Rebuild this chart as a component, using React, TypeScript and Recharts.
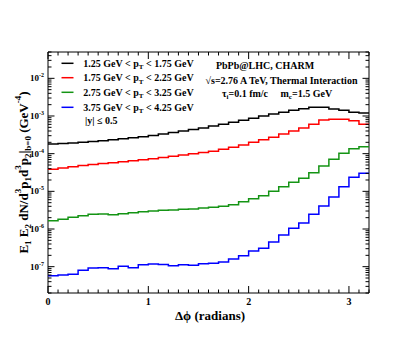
import React from "react";
import { LineChart, Line, XAxis, YAxis, ReferenceArea } from "recharts";

// bin edges of the Δφ histogram (0.1 rad wide)
const binStarts = [
  0, 0.1, 0.2, 0.3, 0.4, 0.5, 0.6, 0.7, 0.8, 0.9, 1.0, 1.1, 1.2, 1.3, 1.4, 1.5,
  1.6, 1.7, 1.8, 1.9, 2.0, 2.1, 2.2, 2.3, 2.4, 2.5, 2.6, 2.7, 2.8, 2.9, 3.0, 3.1,
];
const lastEdge = 3.2;

// 1.25 < pT < 1.75 GeV
const pt125 = [
  1.8e-4, 1.86e-4, 1.92e-4, 2.0e-4, 2.1e-4, 2.21e-4, 2.33e-4, 2.48e-4, 2.63e-4, 2.83e-4,
  3.05e-4, 3.32e-4, 3.64e-4, 3.99e-4, 4.38e-4, 4.8e-4, 5.42e-4, 6.01e-4, 6.79e-4, 7.67e-4,
  8.67e-4, 9.98e-4, 1.13e-3, 1.25e-3, 1.42e-3, 1.56e-3, 1.7e-3, 1.7e-3, 1.53e-3, 1.42e-3,
  1.25e-3, 1.2e-3,
];
// 1.75 < pT < 2.25 GeV
const pt175 = [
  3.84e-5, 4.16e-5, 4.5e-5, 4.84e-5, 5.15e-5, 5.47e-5, 5.74e-5, 6.11e-5, 6.5e-5, 6.9e-5,
  7.34e-5, 7.91e-5, 8.5e-5, 9.2e-5, 9.91e-5, 1.07e-4, 1.16e-4, 1.3e-4, 1.47e-4, 1.69e-4,
  2.0e-4, 2.34e-4, 2.71e-4, 3.32e-4, 3.99e-4, 4.8e-4, 6.01e-4, 7.82e-4, 8.16e-4, 8.16e-4,
  7.49e-4, 6.01e-4,
];
// 2.75 < pT < 3.25 GeV
const pt275 = [
  1.66e-6, 1.81e-6, 2.04e-6, 2.25e-6, 2.45e-6, 2.5e-6, 2.39e-6, 2.55e-6, 2.7e-6, 2.88e-6,
  3.0e-6, 3.13e-6, 3.19e-6, 3.33e-6, 3.39e-6, 3.61e-6, 3.76e-6, 4.0e-6, 4.41e-6, 5.3e-6,
  6.37e-6, 7.65e-6, 1.0e-5, 1.32e-5, 1.73e-5, 2.21e-5, 3.12e-5, 4.7e-5, 7.08e-5, 1.02e-4,
  1.35e-4, 1.53e-4,
];
// 3.75 < pT < 4.25 GeV
const pt375 = [
  5.75e-8, 6.0e-8, 6.26e-8, 8.0e-8, 9.21e-8, 9.38e-8, 8.83e-8, 1.02e-7, 9.38e-8, 1.13e-7,
  1.18e-7, 1.15e-7, 1.06e-7, 1.13e-7, 1.09e-7, 1.2e-7, 1.23e-7, 1.33e-7, 1.6e-7, 1.95e-7,
  2.6e-7, 3.07e-7, 4.51e-7, 6.92e-7, 1.04e-6, 1.44e-6, 2.45e-6, 4.07e-6, 7.06e-6, 1.32e-5,
  2.35e-5, 3.01e-5,
];

const seriesLabels = [
  ["1.25", "1.75"],
  ["1.75", "2.25"],
  ["2.75", "3.25"],
  ["3.75", "4.25"],
];
const seriesKeys = ["pt125", "pt175", "pt275", "pt375"];
const colors = ["#000000", "#ff0000", "#149414", "#0000ff"];

const xTicks = [...binStarts, lastEdge];
const xLabels = [0, 1, 2, 3];
const yDomain = [2e-8, 5e-2];
const yExps = [-8, -7, -6, -5, -4, -3, -2];
const yTicks = yExps
  .flatMap((e) => [1, 2, 3, 4, 5, 6, 7, 8, 9].map((m) => m * Math.pow(10, e)))
  .filter((v) => v >= yDomain[0] * 0.999 && v <= yDomain[1] * 1.001);

const W = 399;
const H = 330;
const PLOT = { left: 40, right: 361, top: 44, bottom: 285 };
const FONT = "'Liberation Serif', 'DejaVu Serif', serif";

const data = xTicks.map((x, i) => {
  const k = Math.min(i, binStarts.length - 1);
  return { x, pt125: pt125[k], pt175: pt175[k], pt275: pt275[k], pt375: pt375[k] };
});

function XTick(props: any) {
  const { x, payload } = props;
  const v = payload.value as number;
  const major = xLabels.some((l) => Math.abs(l - v) < 1e-6);
  const len = major ? 7 : 3.5;
  return (
    <g>
      <line x1={x} x2={x} y1={PLOT.bottom} y2={PLOT.bottom - len} stroke="#000" />
      <line x1={x} x2={x} y1={PLOT.top} y2={PLOT.top + len} stroke="#000" />
      {major && (
        <text
          x={x}
          y={PLOT.bottom + 8}
          textAnchor="middle"
          dominantBaseline="central"
          fontFamily={FONT}
          fontWeight="bold"
          fontSize={10}
          fill="#000"
        >
          {Math.round(v)}
        </text>
      )}
    </g>
  );
}

function YTick(props: any) {
  const { y, payload } = props;
  const v = payload.value as number;
  const lg = Math.log10(v);
  const major = Math.abs(lg - Math.round(lg)) < 1e-6;
  const len = major ? 6.5 : 3.5;
  return (
    <g>
      <line x1={PLOT.left} x2={PLOT.left + len} y1={y} y2={y} stroke="#000" />
      <line x1={PLOT.right} x2={PLOT.right - len} y1={y} y2={y} stroke="#000" />
      {major && (
        <text
          x={PLOT.left - 4}
          y={y}
          textAnchor="end"
          dominantBaseline="central"
          fontFamily={FONT}
          fontWeight="bold"
          fontSize={9}
          fill="#000"
        >
          10
          <tspan fontSize={6} baselineShift="super">
            {Math.round(lg)}
          </tspan>
        </text>
      )}
    </g>
  );
}

function Overlay() {
  const t = { fontFamily: FONT, fontWeight: "bold" as const, fill: "#000" };
  const rows = [55.3, 69.7, 84.3, 99.3];
  return (
    <svg
      width={W}
      height={H}
      style={{ position: "absolute", left: 0, top: 0, pointerEvents: "none" }}
    >
      {seriesLabels.map(([lo, hi], i) => (
        <g key={i}>
          <line x1={53.5} x2={65.5} y1={rows[i]} y2={rows[i]} stroke={colors[i]} strokeWidth={1.5} />
          <text x={75.3} y={rows[i]} dominantBaseline="central" fontSize={10} {...t}>
            {lo} GeV &lt; p
            <tspan fontSize={7} baselineShift="sub">T</tspan> &lt; {hi} GeV
          </text>
        </g>
      ))}
      <text x={77} y={112.7} dominantBaseline="central" fontSize={10} {...t}>
        |y| ≤ 0.5
      </text>

      <text x={257} y={57} textAnchor="middle" dominantBaseline="central" fontSize={10} {...t}>
        PbPb@LHC, CHARM
      </text>
      <text x={273.5} y={72} textAnchor="middle" dominantBaseline="central" fontSize={10} {...t}>
        √s=2.76 A TeV, Thermal Interaction
      </text>
      <text x={269} y={85.3} textAnchor="middle" dominantBaseline="central" fontSize={10} {...t}>
        τ<tspan fontSize={7} baselineShift="sub">i</tspan>=0.1 fm/c{"\u00a0\u00a0\u00a0\u00a0\u00a0"}m
        <tspan fontSize={7} baselineShift="sub">c</tspan>=1.5 GeV
      </text>

      <text x={202} y={307} textAnchor="middle" dominantBaseline="central" fontSize={13} {...t}>
        Δϕ (radians)
      </text>

      <text
        transform={`translate(15, ${(PLOT.top + PLOT.bottom) / 2}) rotate(-90)`}
        textAnchor="middle"
        dominantBaseline="central"
        fontSize={13}
        {...t}
      >
        E<tspan fontSize={9} baselineShift="sub">1</tspan> E
        <tspan fontSize={9} baselineShift="sub">2</tspan> dN/d
        <tspan fontSize={9} baselineShift="super">3</tspan>p
        <tspan fontSize={9} baselineShift="sub">1</tspan>d
        <tspan fontSize={9} baselineShift="super">3</tspan>p
        <tspan fontSize={9} baselineShift="sub">2</tspan>|
        <tspan fontSize={9} baselineShift="sub">b=0</tspan> (GeV
        <tspan fontSize={9} baselineShift="super">-4</tspan>)
      </text>
    </svg>
  );
}

export default function App() {
  return (
    <div style={{ position: "relative", width: W, height: H }}>
      <LineChart
        width={W}
        height={H}
        data={data}
        margin={{ top: PLOT.top, right: W - PLOT.right, left: 0, bottom: 0 }}
      >
        <XAxis
          dataKey="x"
          type="number"
          domain={[0, lastEdge]}
          ticks={xTicks}
          interval={0}
          height={H - PLOT.bottom}
          tickLine={false}
          axisLine={false}
          tickSize={0}
          tick={<XTick />}
        />
        <YAxis
          type="number"
          scale="log"
          domain={yDomain}
          allowDataOverflow
          ticks={yTicks}
          interval={0}
          width={PLOT.left}
          tickLine={false}
          axisLine={false}
          tickSize={0}
          tick={<YTick />}
        />
        <ReferenceArea
          x1={0}
          x2={lastEdge}
          y1={yDomain[0]}
          y2={yDomain[1]}
          fill="none"
          stroke="#000"
          strokeWidth={1}
          fillOpacity={0}
        />
        {seriesKeys.map((k, i) => (
          <Line
            key={k}
            dataKey={k}
            type="stepAfter"
            stroke={colors[i]}
            strokeWidth={1.5}
            dot={false}
            isAnimationActive={false}
          />
        ))}
      </LineChart>
      <Overlay />
    </div>
  );
}
